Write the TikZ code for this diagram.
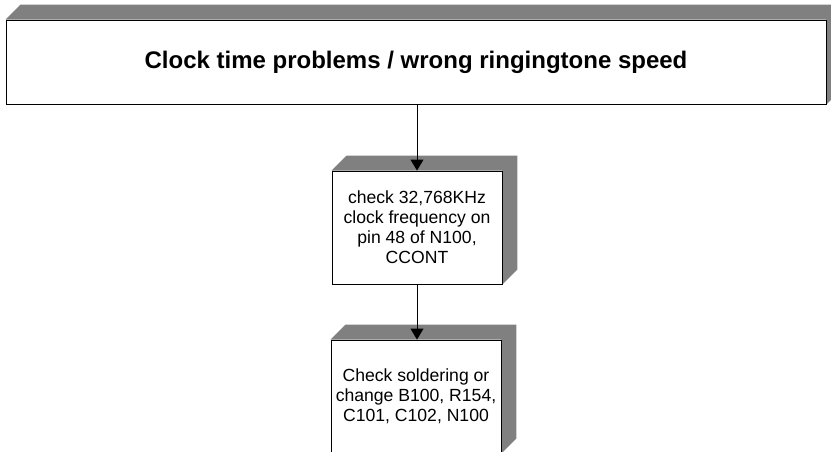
\documentclass[tikz,border=0pt]{standalone}
\usepackage{fontspec}
\setmainfont{Liberation Sans}
\usetikzlibrary{arrows.meta,calc}
\tikzset{
  frontface/.style={draw=black, fill=white, line width=0.9pt, inner sep=0pt, align=center},
  stepbox/.style={frontface, minimum width=170pt, minimum height=113pt,
    font=\fontsize{17.6pt}{20pt}\selectfont},
  titlebox/.style={frontface, minimum width=820pt, minimum height=84pt,
    font=\fontsize{24pt}{28pt}\selectfont\bfseries},
  sideface/.style={fill=black!50},
  flow/.style={draw=black, line width=0.9pt, -{Triangle[width=13pt,length=11pt]}}
}
\begin{document}
\begin{tikzpicture}[x=1pt,y=-1pt]
  \clip (0,0) rectangle (831,451);
  \fill[white] (0,0) rectangle (831,451);

  % box fronts (placed first so the depth faces can use their anchors)
  \node[titlebox] (title) at (416,62) {Clock time problems / wrong ringingtone speed};
  \node[stepbox] (freq) at (417,227.5) {check 32,768KHz\\clock frequency on\\pin 48 of N100,\\CCONT};
  \node[stepbox] (solder) at (416,396.5) {Check soldering or\\change B100, R154,\\C101, C102, N100};

  % gray top and right faces, then the fronts again on top
  \foreach \b in {title,freq,solder} {
    \fill[sideface] (\b.north west) -- ++(15,-15) -- ($(\b.north east)+(15,-15)$)
      -- ($(\b.south east)+(15,-15)$) -- (\b.south east) -- (\b.north east) -- cycle;
  }
  \node[titlebox] at (title) {Clock time problems / wrong ringingtone speed};
  \node[stepbox] at (freq) {check 32,768KHz\\clock frequency on\\pin 48 of N100,\\CCONT};
  \node[stepbox] at (solder) {Check soldering or\\change B100, R154,\\C101, C102, N100};

  % connectors
  \draw[flow] (title.south -| freq.north) -- (freq.north);
  \draw[flow] (freq.south) -- (solder.north -| freq.south);
\end{tikzpicture}
\end{document}
